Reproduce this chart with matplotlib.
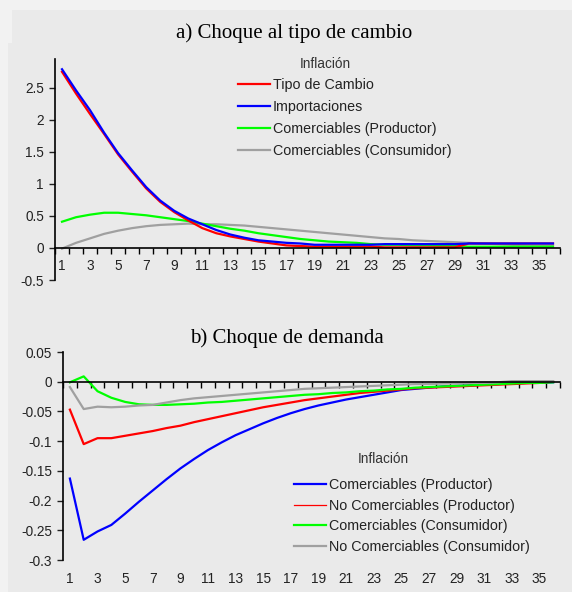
import numpy as np
import matplotlib
matplotlib.use('Agg')
import matplotlib.pyplot as plt
from matplotlib.patches import Rectangle

plt.rcParams['font.family'] = 'Liberation Sans'
plt.rcParams['axes.unicode_minus'] = False

periods = np.arange(1, 37)

# a) exchange rate shock
tipo_cambio = [2.75, 2.41, 2.09, 1.78, 1.46, 1.19, 0.93, 0.72, 0.56, 0.43, 0.31, 0.23,
               0.18, 0.14, 0.10, 0.07, 0.04, 0.03, 0.02, 0.02, 0.02, 0.02, 0.02, 0.01,
               0.01, 0.01, 0.01, 0.01, 0.01, 0.07, 0.07, 0.07, 0.07, 0.07, 0.07, 0.07]
importaciones = [2.79, 2.46, 2.15, 1.80, 1.48, 1.21, 0.95, 0.74, 0.58, 0.46, 0.37, 0.28,
                 0.21, 0.16, 0.12, 0.10, 0.08, 0.07, 0.05, 0.05, 0.05, 0.05, 0.05, 0.06,
                 0.06, 0.06, 0.06, 0.06, 0.06, 0.07, 0.07, 0.07, 0.07, 0.07, 0.07, 0.07]
com_productor = [0.41, 0.48, 0.52, 0.55, 0.55, 0.53, 0.51, 0.48, 0.45, 0.42, 0.38, 0.34,
                 0.30, 0.27, 0.23, 0.20, 0.17, 0.14, 0.12, 0.10, 0.09, 0.08, 0.06, 0.05,
                 0.05, 0.04, 0.04, 0.03, 0.03, 0.02, 0.02, 0.02, 0.02, 0.02, 0.02, 0.02]
com_consumidor = [-0.01, 0.08, 0.15, 0.22, 0.27, 0.31, 0.34, 0.36, 0.37, 0.38, 0.37, 0.37,
                  0.36, 0.35, 0.33, 0.31, 0.29, 0.27, 0.25, 0.23, 0.21, 0.19, 0.17, 0.15,
                  0.14, 0.12, 0.11, 0.10, 0.09, 0.08, 0.07, 0.06, 0.05, 0.04, 0.03, 0.03]

# b) demand shock
dem_com_prod = [-0.163, -0.266, -0.252, -0.241, -0.222, -0.202, -0.183, -0.164, -0.146,
                -0.130, -0.115, -0.102, -0.090, -0.080, -0.070, -0.061, -0.053, -0.046,
                -0.040, -0.035, -0.030, -0.026, -0.022, -0.018, -0.014, -0.012, -0.010,
                -0.008, -0.007, -0.006, -0.005, -0.004, -0.003, -0.002, -0.002, -0.001]
dem_nocom_prod = [-0.047, -0.105, -0.095, -0.095, -0.091, -0.087, -0.083, -0.078, -0.074,
                  -0.068, -0.063, -0.058, -0.053, -0.048, -0.043, -0.039, -0.035, -0.031,
                  -0.028, -0.025, -0.022, -0.019, -0.017, -0.015, -0.013, -0.011, -0.010,
                  -0.009, -0.008, -0.007, -0.006, -0.005, -0.004, -0.003, -0.002, 0.0]
dem_com_cons = [-0.001, 0.009, -0.016, -0.027, -0.034, -0.038, -0.039, -0.039, -0.038,
                -0.037, -0.035, -0.034, -0.032, -0.030, -0.028, -0.026, -0.024, -0.022,
                -0.021, -0.019, -0.018, -0.016, -0.015, -0.013, -0.012, -0.010, -0.009,
                -0.008, -0.007, -0.006, -0.005, -0.004, -0.003, -0.002, -0.002, -0.001]
dem_nocom_cons = [-0.009, -0.046, -0.042, -0.043, -0.042, -0.040, -0.039, -0.035, -0.031,
                  -0.028, -0.026, -0.024, -0.022, -0.020, -0.018, -0.016, -0.014, -0.012,
                  -0.011, -0.010, -0.009, -0.008, -0.007, -0.006, -0.005, -0.004, -0.004,
                  -0.003, -0.003, -0.002, -0.002, -0.001, 0.001, 0.001, 0.001, 0.001]

top_yticks = [-0.5, 0, 0.5, 1, 1.5, 2, 2.5]
bot_yticks = [-0.3, -0.25, -0.2, -0.15, -0.1, -0.05, 0, 0.05]
xlabels = np.arange(1, 37, 2)

W, H = 572, 592
fig = plt.figure(figsize=(W / 100, H / 100), dpi=100, facecolor='#F2F2F2')
fig.patches.append(Rectangle((12 / W, 0), 1, 1 - 10 / H, transform=fig.transFigure,
                             facecolor='#EAEAEA', edgecolor='none', zorder=-2))
fig.patches.append(Rectangle((8 / W, 0), 1, 1 - 43 / H, transform=fig.transFigure,
                             facecolor='#EAEAEA', edgecolor='none', zorder=-2))


def px_rect(l, t, r, b):
    return [l / W, 1 - b / H, (r - l) / W, (b - t) / H]


def style_axis(ax):
    ax.set_facecolor('none')
    ax.set_xlim(0.5, 36.5)
    for s in ['top', 'right']:
        ax.spines[s].set_visible(False)
    ax.spines['left'].set_linewidth(1.2)
    ax.spines['bottom'].set_linewidth(1.2)
    ax.spines['bottom'].set_position(('data', 0))
    ax.set_xticks(np.arange(0.5, 37, 1), minor=True)
    ax.tick_params(axis='x', which='minor', direction='out', length=4, width=1)
    ax.tick_params(axis='y', direction='out', length=4, width=1, labelsize=9.8,
                   pad=4, colors='#222222')
    ax.yaxis.set_major_formatter(lambda v, p: '{:g}'.format(round(v, 3)))


# ---- a) Choque al tipo de cambio
ax1 = fig.add_axes(px_rect(55, 59, 560, 280))
style_axis(ax1)
ax1.set_ylim(-0.5, 2.95)
ax1.set_yticks(top_yticks)
l4, = ax1.plot(periods, com_consumidor, color='#A0A0A0', lw=1.6)
l3, = ax1.plot(periods, com_productor, color='#00FF00', lw=1.6)
l1, = ax1.plot(periods, tipo_cambio, color='#FF0000', lw=1.6)
l2, = ax1.plot(periods, importaciones, color='#0000FF', lw=1.6)
ax1.set_xticks(xlabels)
ax1.tick_params(axis='x', which='major', length=0, pad=8, labelsize=9.8, colors='#222222')
leg1 = ax1.legend([l1, l2, l3, l4],
                  ['Tipo de Cambio', 'Importaciones', 'Comerciables (Productor)',
                   'Comerciables (Consumidor)'],
                  loc='upper left', bbox_to_anchor=(238 / W, 1 - 78 / H),
                  bbox_transform=fig.transFigure, frameon=False, fontsize=10.3,
                  borderpad=0, borderaxespad=0, handlelength=2.25, handletextpad=0.2,
                  labelspacing=0.56)
for t in leg1.get_texts():
    t.set_color('#222222')
fig.text(325 / W, 1 - 64 / H, 'Inflación', ha='center', va='center', fontsize=9.8,
         color='#333333')
fig.text(294 / W, 1 - 33 / H, 'a) Choque al tipo de cambio', ha='center', va='center',
         fontsize=15, family='Liberation Serif')

# ---- b) Choque de demanda
ax2 = fig.add_axes(px_rect(63, 352, 560, 560))
style_axis(ax2)
ax2.set_ylim(-0.3, 0.05)
ax2.set_yticks(bot_yticks)
ax2.set_xticks([])
m1, = ax2.plot(periods, dem_com_prod, color='#0000FF', lw=1.6)
m2, = ax2.plot(periods, dem_nocom_prod, color='#FF0000', lw=1.6)
m3, = ax2.plot(periods, dem_com_cons, color='#00FF00', lw=1.6)
m4, = ax2.plot(periods, dem_nocom_cons, color='#A0A0A0', lw=1.6)
sec = ax2.secondary_xaxis('bottom')
sec.spines['bottom'].set_visible(False)
sec.set_xticks(xlabels)
sec.tick_params(length=0, pad=8.5, labelsize=9.8, colors='#222222')
leg2 = ax2.legend([m1, m2, m3, m4],
                  ['Comerciables (Productor)', 'No Comerciables (Productor)',
                   'Comerciables (Consumidor)', 'No Comerciables (Consumidor)'],
                  loc='upper left', bbox_to_anchor=(294 / W, 1 - 478 / H),
                  bbox_transform=fig.transFigure, frameon=False, fontsize=10.3,
                  borderpad=0, borderaxespad=0, handlelength=2.25, handletextpad=0.2,
                  labelspacing=0.47)
leg2.get_lines()[1].set_linewidth(0.9)
for t in leg2.get_texts():
    t.set_color('#222222')
fig.text(383 / W, 1 - 459 / H, 'Inflación', ha='center', va='center', fontsize=9.8,
         color='#333333')
fig.text(287 / W, 1 - 338 / H, 'b) Choque de demanda', ha='center', va='center',
         fontsize=15, family='Liberation Serif')

fig.savefig('out.png', dpi=100, facecolor=fig.get_facecolor())
